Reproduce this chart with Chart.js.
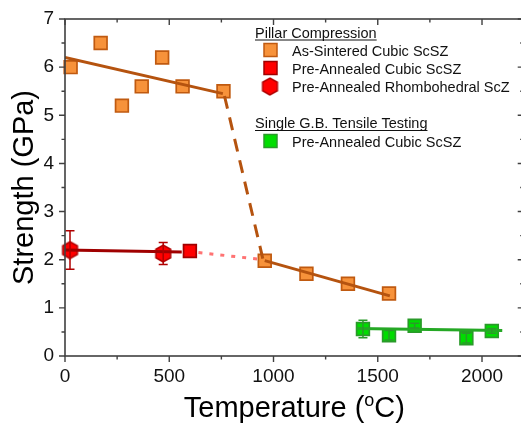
<!DOCTYPE html>
<html>
<head>
<meta charset="utf-8">
<script src="https://cdn.jsdelivr.net/npm/chart.js@4/dist/chart.umd.min.js"></script>
<style>
html, body { margin: 0; padding: 0; overflow: hidden; background: #fff; }
</style>
</head>
<body>
<canvas id="chart" width="521" height="425"></canvas>
<script>
// pillar compression, as-sintered cubic ScSZ
const sinteredT = [27, 171, 273, 368, 466, 564, 760, 958, 1158, 1357, 1554];
const sinteredS = [6.0, 6.5, 5.2, 5.6, 6.2, 5.6, 5.5, 1.98, 1.71, 1.5, 1.3];
// pillar compression, pre-annealed cubic ScSZ
const annealedT = [599];
const annealedS = [2.18];
// pillar compression, pre-annealed rhombohedral ScZ
const rhomboT = [24, 471];
const rhomboS = [2.2, 2.13];
const rhomboErr = [0.4, 0.23];
// single G.B. tensile testing, pre-annealed cubic ScSZ
const tensileT = [1429, 1554, 1677, 1925, 2047];
const tensileS = [0.56, 0.43, 0.63, 0.37, 0.52];
const tensileErr = [0.18, 0.1, 0.05, 0.1, 0.05];

// fit / guide lines: [x0, x1], [y0, y1]
const fitLowT = [0, 757], fitLowS = [6.2, 5.45];
const dropT = [765, 950], dropS = [5.4, 2.0];
const fitHighT = [958, 1558], fitHighS = [1.98, 1.25];
const rhomboFitT = [0, 560], rhomboFitS = [2.2, 2.16];
const dotT = [640, 950], dotS = [2.15, 2.0];
const tensileFitT = [1398, 2097], tensileFitS = [0.57, 0.53];

const xTicks = [0, 500, 1000, 1500, 2000];
const yTicks = [0, 1, 2, 3, 4, 5, 6, 7];
const X_END = 2200;   // the plot frame ends here, just past the picture's right edge

const FONT = "'Liberation Sans', Arial, sans-serif";

function pts(xs, ys) {
    return xs.map((x, i) => ({x: x, y: ys[i]}));
}

function makeHex(size, fill, stroke) {
    const c = document.createElement('canvas');
    c.width = size; c.height = size;
    const g = c.getContext('2d');
    const r = size / 2 - 1;
    g.beginPath();
    for (let i = 0; i < 6; i++) {
        const a = Math.PI / 2 + i * Math.PI / 3;
        const px = size / 2 + r * Math.cos(a), py = size / 2 + r * Math.sin(a);
        if (i) g.lineTo(px, py); else g.moveTo(px, py);
    }
    g.closePath();
    g.fillStyle = fill; g.fill();
    g.lineWidth = 1.5; g.strokeStyle = stroke; g.stroke();
    return c;
}
const hexImg = makeHex(19, '#ff0000', '#b00000');

function lineSet(xs, ys, color, dash, width) {
    return {
        data: pts(xs, ys), showLine: true, pointRadius: 0,
        borderColor: color, borderWidth: width || 3, borderDash: dash || [],
        order: 0
    };
}

function markSet(xs, ys, fill, border, style, err) {
    return {
        data: pts(xs, ys), showLine: false,
        pointStyle: style, pointRadius: 9,
        backgroundColor: fill, borderColor: border, borderWidth: 1.7,
        errors: err, order: 1, clip: false
    };
}

// error bars, drawn through the scales
const errorBars = {
    id: 'errorBars',
    afterDatasetsDraw(chart) {
        const ctx = chart.ctx;
        const ys = chart.scales.y, xs = chart.scales.x;
        chart.data.datasets.forEach(ds => {
            if (!ds.errors) return;
            ctx.save();
            ctx.strokeStyle = ds.borderColor;
            ctx.lineWidth = 1.5;
            ds.data.forEach((p, i) => {
                const e = ds.errors[i];
                const px = xs.getPixelForValue(p.x);
                const top = ys.getPixelForValue(p.y + e), bot = ys.getPixelForValue(p.y - e);
                ctx.beginPath();
                ctx.moveTo(px, top); ctx.lineTo(px, bot);
                ctx.moveTo(px - 4.5, top); ctx.lineTo(px + 4.5, top);
                ctx.moveTo(px - 4.5, bot); ctx.lineTo(px + 4.5, bot);
                ctx.stroke();
            });
            ctx.restore();
        });
    }
};

// frame, major/minor ticks on all four sides, axis titles and legend
const frame = {
    id: 'frame',
    afterDraw(chart) {
        const ctx = chart.ctx;
        const a = chart.chartArea;
        const xs = chart.scales.x, ys = chart.scales.y;
        const right = xs.getPixelForValue(X_END);
        ctx.save();
        ctx.strokeStyle = '#404040';
        ctx.lineWidth = 1.6;
        ctx.strokeRect(a.left, a.top, right - a.left, a.bottom - a.top);
        ctx.lineWidth = 1.4;
        ctx.beginPath();
        for (let v = 0; v <= X_END; v += 250) {
            const px = xs.getPixelForValue(v);
            const len = v % 500 === 0 ? 6 : 3.5;
            ctx.moveTo(px, a.bottom); ctx.lineTo(px, a.bottom + len);
            ctx.moveTo(px, a.top); ctx.lineTo(px, a.top + len);
        }
        for (let v = 0; v <= 7; v += 0.5) {
            const py = ys.getPixelForValue(v);
            const len = v % 1 === 0 ? 6 : 3.5;
            ctx.moveTo(a.left, py); ctx.lineTo(a.left - len, py);
            ctx.moveTo(right, py); ctx.lineTo(right - len, py);
        }
        ctx.stroke();

        // axis titles
        ctx.fillStyle = '#000';
        ctx.font = '29px ' + FONT;
        ctx.textBaseline = 'alphabetic';
        ctx.save();
        ctx.translate(33, (a.top + a.bottom) / 2);
        ctx.rotate(-Math.PI / 2);
        ctx.textAlign = 'center';
        ctx.fillText('Strength (GPa)', 0, 0);
        ctx.restore();

        const p1 = 'Temperature (', sup = 'o', p2 = 'C)';
        ctx.font = '29px ' + FONT;
        const w1 = ctx.measureText(p1).width, w3 = ctx.measureText(p2).width;
        ctx.font = '18px ' + FONT;
        const w2 = ctx.measureText(sup).width;
        let x0 = (a.left + right) / 2 - (w1 + w2 + w3) / 2;
        const base = 417;
        ctx.textAlign = 'left';
        ctx.font = '29px ' + FONT;
        ctx.fillText(p1, x0, base);
        ctx.font = '18px ' + FONT;
        ctx.fillText(sup, x0 + w1, base - 11);
        ctx.font = '29px ' + FONT;
        ctx.fillText(p2, x0 + w1 + w2, base);

        // legend
        ctx.font = '14.5px ' + FONT;
        ctx.fillStyle = '#111';
        ctx.strokeStyle = '#111';
        ctx.lineWidth = 1;
        const heads = [['Pillar Compression', 37.5], ['Single G.B. Tensile Testing', 128]];
        heads.forEach(h => {
            ctx.fillText(h[0], 255, h[1]);
            const w = ctx.measureText(h[0]).width;
            ctx.beginPath();
            ctx.moveTo(255, h[1] + 2.5); ctx.lineTo(255 + w, h[1] + 2.5);
            ctx.stroke();
        });
        const items = [
            ['As-Sintered Cubic ScSZ', 50, 'rect', '#f7923a', '#c05a10'],
            ['Pre-Annealed Cubic ScSZ', 68, 'rect', '#ff0000', '#a00000'],
            ['Pre-Annealed Rhombohedral ScZ', 86.5, 'hex'],
            ['Pre-Annealed Cubic ScSZ', 141, 'rect', '#00dd00', '#2a9a2a']
        ];
        items.forEach(it => {
            const cy = it[1];
            if (it[2] === 'rect') {
                ctx.fillStyle = it[3];
                ctx.fillRect(264, cy - 6.5, 13, 13);
                ctx.strokeStyle = it[4];
                ctx.lineWidth = 1.5;
                ctx.strokeRect(264, cy - 6.5, 13, 13);
            } else {
                ctx.drawImage(hexImg, 270 - 9.5, cy - 9.5);
            }
            ctx.fillStyle = '#111';
            ctx.fillText(it[0], 292, cy + 5.5);
        });
        ctx.restore();
    }
};

new Chart(document.getElementById('chart'), {
    type: 'scatter',
    data: {
        datasets: [
            lineSet(fitLowT, fitLowS, '#b5530f'),
            lineSet(dropT, dropS, '#b5530f', [13, 9]),
            lineSet(fitHighT, fitHighS, '#b5530f'),
            lineSet(rhomboFitT, rhomboFitS, '#a00000'),
            lineSet(dotT, dotS, '#ff7373', [4, 7]),
            lineSet(tensileFitT, tensileFitS, '#25a825'),
            markSet(sinteredT, sinteredS, '#f7923a', '#c05a10', 'rect'),
            markSet(annealedT, annealedS, '#ff0000', '#a00000', 'rect'),
            markSet(rhomboT, rhomboS, '#ff0000', '#b00000', hexImg, rhomboErr),
            markSet(tensileT, tensileS, '#00dd00', '#2a9a2a', 'rect', tensileErr)
        ]
    },
    options: {
        responsive: false,
        animation: false,
        layout: { autoPadding: false, padding: { top: 19, right: 0, left: 0, bottom: 0 } },
        plugins: { legend: { display: false }, tooltip: { enabled: false } },
        scales: {
            x: {
                // 0 sits at x=65 and 2000 at x=482, so the canvas edge is about 2187
                type: 'linear', min: 0, max: 2187,
                afterFit: s => { s.height = 69; s.paddingLeft = 0; s.paddingRight = 0; },
                afterBuildTicks: s => { s.ticks = xTicks.map(v => ({value: v})); },
                grid: { display: false, drawTicks: false },
                border: { display: false },
                ticks: { color: '#111', font: { size: 19, family: FONT }, padding: 9, maxRotation: 0,
                         callback: v => String(v) }
            },
            y: {
                min: 0, max: 7,
                afterFit: s => { s.width = 65; s.paddingTop = 0; s.paddingBottom = 0; },
                afterBuildTicks: s => { s.ticks = yTicks.map(v => ({value: v})); },
                grid: { display: false, drawTicks: false },
                border: { display: false },
                ticks: { color: '#111', font: { size: 19, family: FONT }, padding: 11,
                         callback: v => String(v) }
            }
        }
    },
    plugins: [errorBars, frame]
});
</script>
</body>
</html>
